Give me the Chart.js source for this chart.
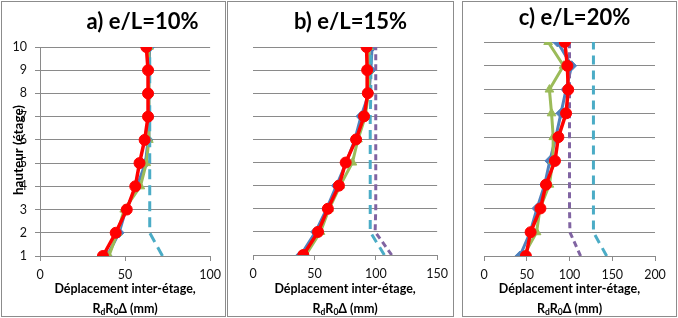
<!DOCTYPE html>
<html>
<head>
<meta charset="utf-8">
<script src="https://cdn.jsdelivr.net/npm/chart.js@4.4.1/dist/chart.umd.min.js"></script>
<style>
  body { margin: 0; background: #fff; width: 678px; height: 318px; overflow: hidden; position: relative; }
  canvas { position: absolute; top: 0; }
</style>
</head>
<body>
<canvas id="pa" width="227" height="318" style="left:0px"></canvas>
<canvas id="pb" width="227" height="318" style="left:227px"></canvas>
<canvas id="pc" width="216" height="318" style="left:462px"></canvas>
<script>
// étages
const storeys = [1, 2, 3, 4, 5, 6, 7, 8, 9, 10];
const storeyTicks = [1, 2, 3, 4, 5, 6, 7, 8, 9, 10];

// a) e/L=10%
const blueA = [39.5, 46.5, 50.5, 57, 62, 63.5, 64, 64, 64, 64.5];
const greenA = [40.5, 45.5, 49.5, 59, 62.5, 64, 64, 64, 64, 64];
const redA = [37, 44.5, 51, 56, 58.5, 61.5, 63.5, 63.5, 63.5, 62.5];
const cyanA = [72, 64.5, 64.5, 64.5, 64.5, 64.5, 64.5, 64.5, 64.5, 64.5];

// b) e/L=15%
const blueB = [39, 51, 60, 68, 76, 83, 88, 94.5, 96, 97];
const greenB = [43, 55, 62, 71, 81, 85.5, 91.5, 94, 94.5, 94.5];
const redB = [41, 53, 61, 70, 75.5, 84, 90.5, 93.5, 93, 92.5];
const cyanB = [107, 95.5, 95.5, 95.5, 95.5, 95.5, 95.5, 96, 96, 96];
const purpleB = [113, 99.5, 100, 100, 100, 100, 100, 100, 100, 100];

// c) e/L=20%
const blueC = [42, 54, 62, 71, 77, 84, 90, 96, 102.5, 86];
const greenC = [46, 61.5, 65.5, 76.5, 80.5, 81, 79, 76.5, 93, 75];
const redC = [49, 54.5, 66, 72.5, 83, 87, 96, 98.5, 97.5, 94.5];
const cyanC = [143.5, 128, 128, 128, 128, 128, 128, 128, 128, 128];
const purpleC = [113, 100.5, 100, 100, 100, 100, 100, 100, 100, 100];

const BLUE = "#4F81BD", GREEN = "#9BBB59", RED = "#FF0000", CYAN = "#4BACC6", PURPLE = "#8064A2";
const GRID = "#8a8a8a";

function pts(values) {
  return values.map((v, i) => ({ x: v, y: storeys[i] }));
}

function markerSet(values, color, style, width, radius) {
  return {
    data: pts(values),
    borderColor: color,
    backgroundColor: color,
    borderWidth: width,
    pointStyle: style,
    pointRadius: radius,
    pointBorderWidth: 1,
    tension: 0,
  };
}

function dashedSet(values, color, dash) {
  return {
    data: pts(values),
    borderColor: color,
    borderWidth: 3,
    borderDash: dash,
    pointRadius: 0,
    tension: 0,
  };
}

// dessine cadre, titres et légendes d'axes
const panelDeco = {
  id: "panelDeco",
  afterDraw(chart, args, opts) {
    const ctx = chart.ctx;
    const area = chart.chartArea;
    ctx.save();
    ctx.strokeStyle = "#8c8c8c";
    ctx.lineWidth = 1;
    ctx.strokeRect(opts.frame[0], opts.frame[1], opts.frame[2], opts.frame[3]);

    ctx.fillStyle = "#000";
    ctx.textAlign = "center";
    ctx.textBaseline = "middle";
    ctx.font = "bold 22px Lato";
    ctx.fillText(opts.title, opts.titleX, opts.titleY);

    const cx = (area.left + area.right) / 2;
    ctx.font = "bold 12.5px Lato";
    ctx.fillText("Déplacement inter-étage,", cx, 289);

    // R_d R_0 Δ (mm)
    const parts = [["R", false], ["d", true], ["R", false], ["0", true], ["Δ (mm)", false]];
    let total = 0;
    parts.forEach(([t, sub]) => {
      ctx.font = sub ? "bold 8.5px Lato" : "bold 12.5px Lato";
      total += ctx.measureText(t).width;
    });
    let x = cx - total / 2;
    ctx.textAlign = "left";
    parts.forEach(([t, sub]) => {
      ctx.font = sub ? "bold 8.5px Lato" : "bold 12.5px Lato";
      ctx.fillText(t, x, sub ? 312 : 309);
      x += ctx.measureText(t).width;
    });

    if (opts.yTitle) {
      ctx.translate(19, 150);
      ctx.rotate(-Math.PI / 2);
      ctx.textAlign = "center";
      ctx.font = "bold 13.5px Lato";
      ctx.fillText(opts.yTitle, 0, 0);
    }
    ctx.restore();
  },
};

function makePanel(id, cfg) {
  new Chart(document.getElementById(id), {
    type: "line",
    data: { datasets: cfg.datasets },
    options: {
      responsive: false,
      animation: false,
      devicePixelRatio: 1,
      layout: { padding: { top: cfg.top, right: cfg.right, left: 0, bottom: 0 } },
      plugins: {
        legend: { display: false },
        tooltip: { enabled: false },
        panelDeco: cfg.deco,
      },
      scales: {
        x: {
          type: "linear",
          min: 0,
          max: cfg.xMax,
          afterFit: (s) => { s.height = cfg.xHeight; },
          ticks: { stepSize: 50, color: "#111", font: { family: "Lato", size: 12.5 }, padding: 6 },
          grid: { drawOnChartArea: false, drawTicks: true, tickLength: 5, color: GRID },
          border: { display: true, color: GRID },
        },
        y: {
          type: "linear",
          min: storeyTicks[0],
          max: storeyTicks[storeyTicks.length - 1],
          afterFit: (s) => { s.width = cfg.yWidth; },
          ticks: {
            display: cfg.yLabels,
            stepSize: 1,
            color: "#111",
            font: { family: "Lato", size: 12.5 },
            padding: 8,
          },
          grid: { color: GRID, drawTicks: cfg.yLabels, tickLength: 5 },
          border: { display: cfg.yLabels, color: GRID },
        },
      },
    },
    plugins: [panelDeco],
  });
}

makePanel("pa", {
  top: 47, right: 15, yWidth: 40, xHeight: 62, xMax: 100, yLabels: true,
  deco: { frame: [1.5, 1.5, 224, 315], title: "a) e/L=10%", titleX: 142.5, titleY: 22, yTitle: "hauteur (étage)" },
  datasets: [
    markerSet(redA, RED, "circle", 3.5, 5.5),
    dashedSet(cyanA, CYAN, [10, 6]),
    markerSet(greenA, GREEN, "triangle", 3, 5),
    markerSet(blueA, BLUE, "rectRot", 3, 5),
  ],
});

makePanel("pb", {
  top: 47, right: 13, yWidth: 26, xHeight: 63, xMax: 150, yLabels: false,
  deco: { frame: [0.5, 1.5, 226, 315], title: "b) e/L=15%", titleX: 123.5, titleY: 22 },
  datasets: [
    markerSet(redB, RED, "circle", 3.5, 5.5),
    dashedSet(purpleB, PURPLE, [6, 4]),
    dashedSet(cyanB, CYAN, [9, 6]),
    markerSet(greenB, GREEN, "triangle", 3, 5),
    markerSet(blueB, BLUE, "rectRot", 3, 5),
  ],
});

makePanel("pc", {
  top: 42, right: 23, yWidth: 22, xHeight: 62, xMax: 200, yLabels: false,
  deco: { frame: [0.5, 1.5, 214, 315], title: "c) e/L=20%", titleX: 112.5, titleY: 18 },
  datasets: [
    markerSet(redC, RED, "circle", 3.5, 5.5),
    dashedSet(purpleC, PURPLE, [6, 4]),
    dashedSet(cyanC, CYAN, [9, 6]),
    markerSet(greenC, GREEN, "triangle", 3, 5),
    markerSet(blueC, BLUE, "rectRot", 3, 5),
  ],
});
</script>
</body>
</html>
